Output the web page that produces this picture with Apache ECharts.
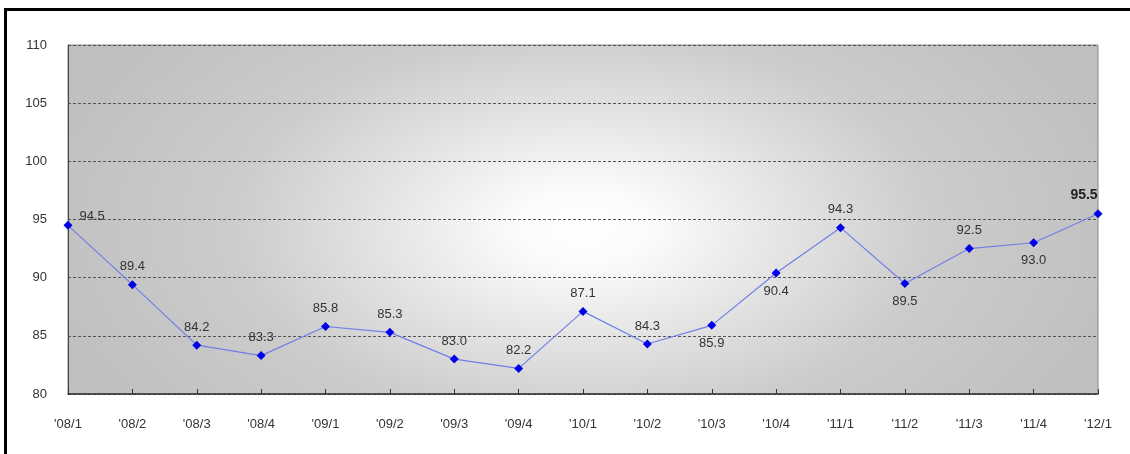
<!DOCTYPE html>
<html><head><meta charset="utf-8">
<script src="https://cdn.jsdelivr.net/npm/echarts@6/dist/echarts.min.js"></script>
<style>html,body{margin:0;padding:0;background:#fff}#c{width:1130px;height:454px}</style>
</head><body><div id="c"></div>
<script>
const categories = ["'08/1","'08/2","'08/3","'08/4","'09/1","'09/2","'09/3","'09/4","'10/1","'10/2","'10/3","'10/4","'11/1","'11/2","'11/3","'11/4","'12/1"];
const values = [94.5,89.4,84.2,83.3,85.8,85.3,83.0,82.2,87.1,84.3,85.9,90.4,94.3,89.5,92.5,93.0,95.5];
const yTicks = [80,85,90,95,100,105,110];

const below = {10:true,11:true,13:true,15:true};
const data = values.map((v,i)=>{
  const d = {value:v, label:{}};
  if (i===0) { d.label = {position:'right', offset:[2,-9]}; }
  else if (i===values.length-1) { d.label = {position:'top', offset:[-14,-2], fontWeight:'bold', fontSize:14, color:'#222'}; }
  else if (below[i]) { d.label = {position:'bottom', distance:7}; }
  else { d.label = {position:'top', distance:7}; }
  return d;
});

const G = {left:68, top:45, right:32, bottom:60};
const W = 1130 - G.left - G.right, H = 454 - G.top - G.bottom;
const sx = 1.8;

const chart = echarts.init(document.getElementById('c'));
chart.setOption({
  animation:false,
  backgroundColor:'#fff',
  textStyle:{fontFamily:'Liberation Sans'},
  grid:{left:G.left,right:G.right,top:G.top,bottom:G.bottom,show:true,borderColor:'#8a8a8a',borderWidth:1,backgroundColor:'transparent'},
  xAxis:{type:'category',data:categories,boundaryGap:false,
    axisLine:{lineStyle:{color:'#333',width:1.5}},
    axisTick:{inside:true,length:5,lineStyle:{color:'#333'}},
    axisLabel:{color:'#333',fontSize:13,margin:24}},
  yAxis:{type:'value',min:80,max:110,interval:5,
    axisLine:{show:true,lineStyle:{color:'#444'}},
    axisTick:{show:false},
    axisLabel:{color:'#333',fontSize:13,margin:21,formatter:v=>yTicks.includes(v)?String(v):''},
    splitLine:{lineStyle:{color:'#555',type:[3,2],width:1}}},
  series:[{type:'line',data:data,symbol:'diamond',symbolSize:9,
    itemStyle:{color:'#0000e6'},
    lineStyle:{color:'#6f7fe6',width:1.2},
    label:{show:true,color:'#333',fontSize:13,formatter:p=>p.value.toFixed(1)}}],
  graphic:[
    {type:'rect',z:-10,x:G.left,y:G.top,scaleX:sx,shape:{x:0,y:0,width:W/sx,height:H},
      style:{fill:{type:'radial',x:0.5,y:0.52,r:0.9,colorStops:[
        {offset:0,color:'#ffffff'},{offset:0.12,color:'#fbfbfb'},{offset:0.4,color:'#e0e0e0'},
        {offset:0.62,color:'#cccccc'},{offset:1,color:'#bfbfbf'}]}}},
    {type:'rect',shape:{x:4,y:8,width:1130,height:3},style:{fill:'#000'}},
    {type:'rect',shape:{x:4,y:8,width:3,height:454},style:{fill:'#000'}}
  ]
});
</script></body></html>
